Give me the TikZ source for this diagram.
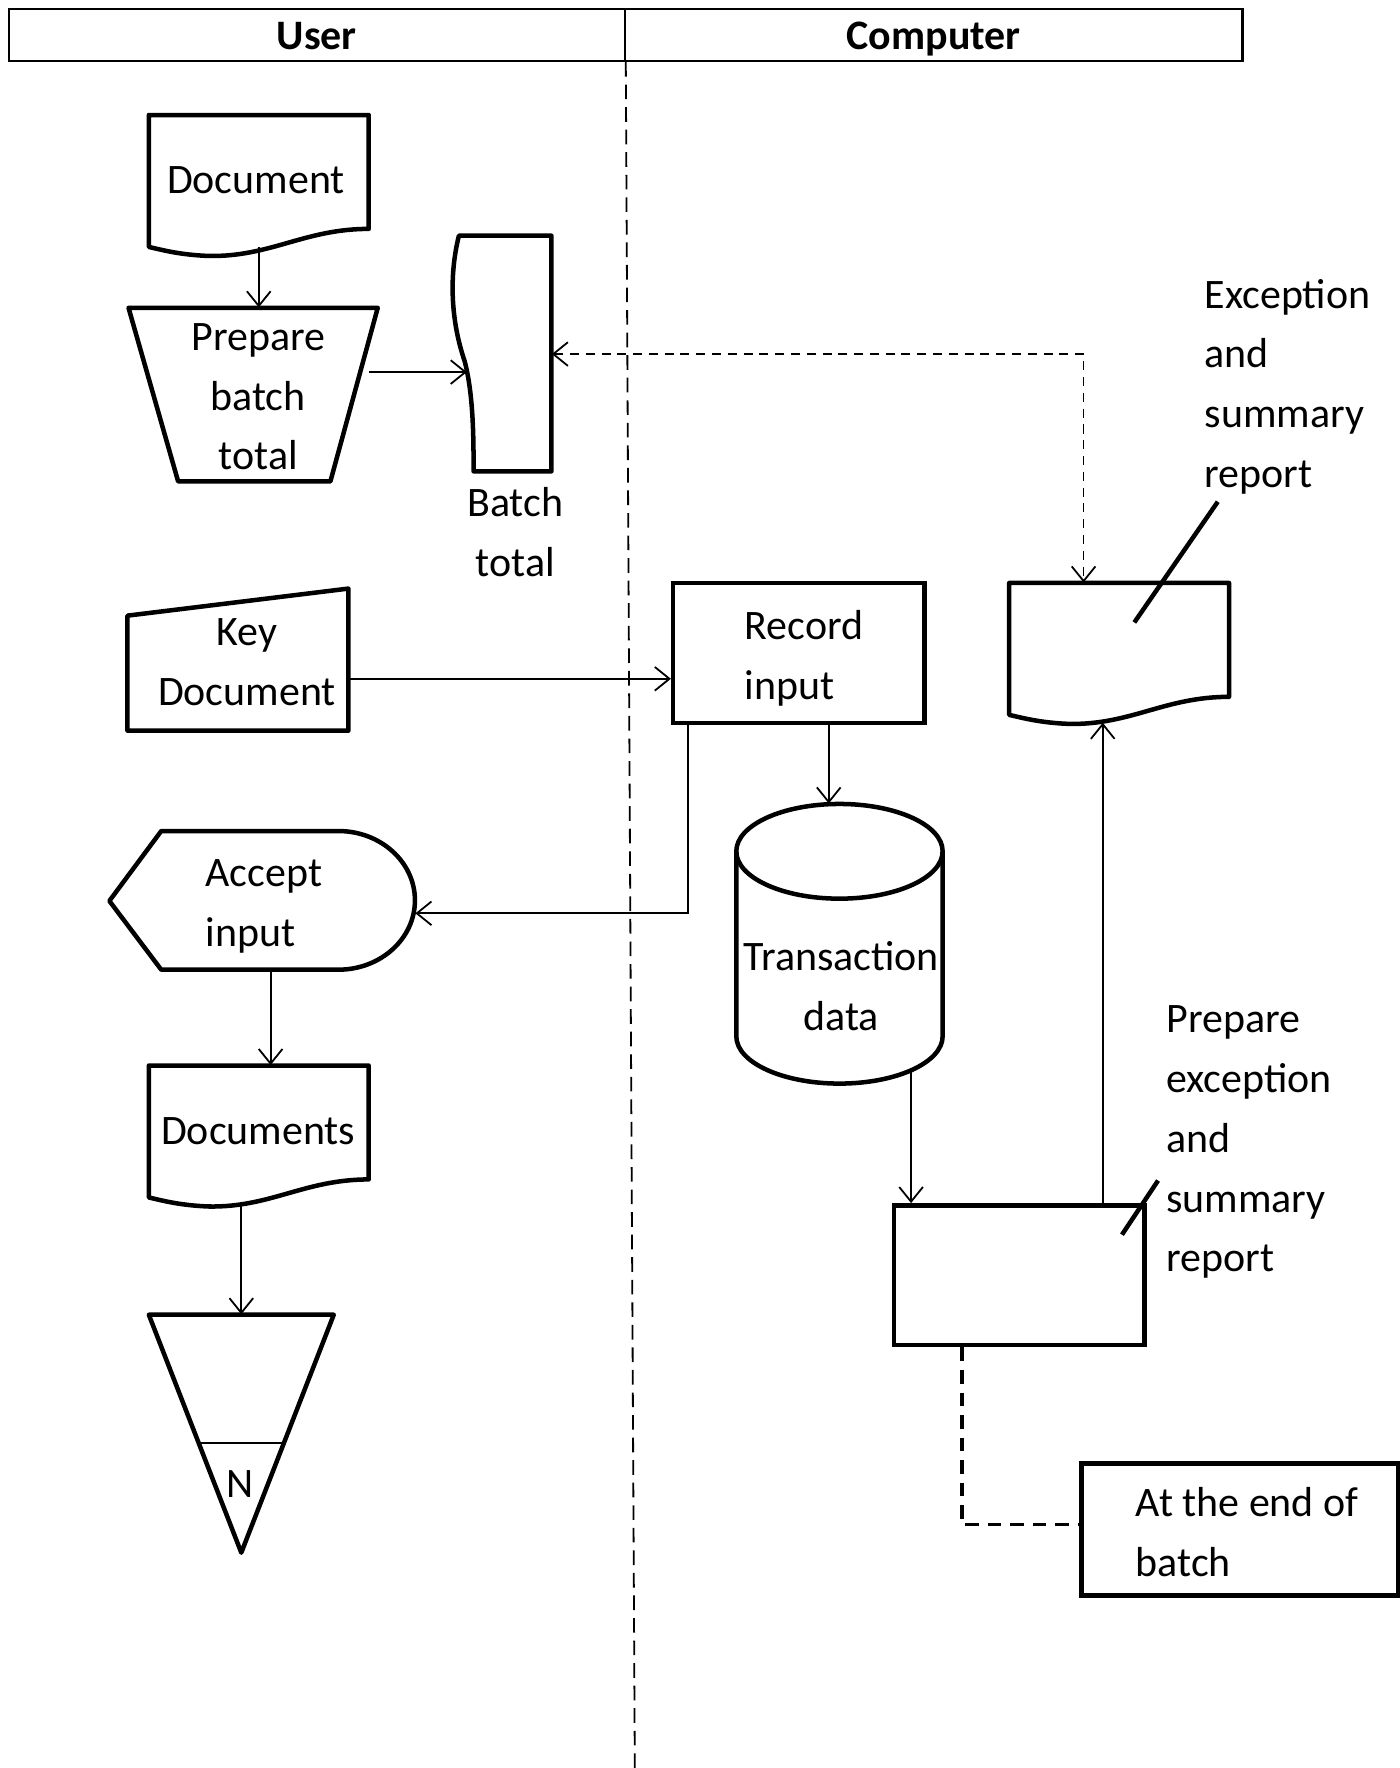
\documentclass[tikz,border=0pt]{standalone}
\usepackage{fontspec}
\setmainfont{Carlito}
\usetikzlibrary{arrows.meta,calc}
\begin{document}
\begin{tikzpicture}[x=0.5pt,y=-0.5pt,
  outl/.style={line width=2pt, line join=round},
  area/.style 2 args={inner sep=0pt, minimum width=#1*0.5pt, minimum height=#2*0.5pt},
  rbox/.style={draw, line width=2pt},
  hcell/.style={draw, line width=1pt, font=\fontsize{18.6}{26.5}\selectfont\bfseries, text height=13pt, text depth=0pt},
  txt/.style={inner sep=0pt, font=\fontsize{18.6}{26.5}\selectfont, align=center},
  ltxt/.style={txt, align=left, anchor=west},
  barb/.tip={Straight Barb[length=6.5pt,width=10.5pt]},
  conn/.style={line width=0.8pt, -barb},
  dconn/.style={line width=0.8pt, dash pattern=on 4pt off 3pt, barb-barb},
  lane/.style={line width=0.8pt, dash pattern=on 6.5pt off 3.5pt},
  thdash/.style={line width=1.6pt, dash pattern=on 6pt off 4pt},
  docpic/.pic={\draw[outl] (0,117) -- (0,0) -- (195,0) -- (195,101) .. controls (138,101) and (108,126) .. (53,125) .. controls (28,124) and (13,120) .. (0,117) -- cycle;}
]
\fill[white] (0,0) rectangle (1241,1568);
\useasboundingbox (0,0) rectangle (1241,1568);

% header
\node[hcell, area={546}{46}] (user) at (281,31) {User};
\node[hcell, area={548}{46}] (comp) at (828,31) {Computer};
\coordinate (laneEnd) at (563,1568);
\draw[lane] (user.south east) -- (laneEnd);

% shape areas
\node[area={195}{117}] (doc1) at (229.5,160.5) {};
\node[area={221}{154}] (trap) at (224.5,350) {};
\node[area={87}{209}] (batch) at (445.5,313.5) {};
\node[area={196}{126}] (keydoc) at (211,585) {};
\node[rbox, area={223}{124}] (record) at (708.5,579) {};
\node[area={196}{115}] (report) at (993,574.5) {};
\node[area={271}{123}] (accept) at (232.5,798.5) {};
\node[area={183}{248}] (cyl) at (744.5,837) {};
\node[area={195}{116}] (docs) at (229.5,1003) {};
\node[area={164}{211}] (tri) at (214,1271.5) {};
\node[rbox, area={222}{124}] (prep) at (904,1131) {};
\node[rbox, area={281}{117}] (endb) at (1099.5,1356.5) {};

% outlines
\pic at (132,102) {docpic};
\pic at (132,945) {docpic};
\pic at (895,517) {docpic};
\draw[outl] (114,273) -- (335,273) -- (293,427) -- (158,427) -- cycle;
\draw[outl] (489,209) -- (407,209) .. controls (398,245) and (400,285) .. (412,320) .. controls (420,350) and (420,390) .. (420,418) -- (489,418) -- cycle;
\draw[outl] (113,546) -- (309,522) -- (309,648) -- (113,648) -- cycle;
\draw[outl] (97,799) -- (143,737) -- (300,737) .. controls (337.6,737) and (368,764.5) .. (368,798.5) .. controls (368,832.5) and (337.6,860) .. (300,860) -- (143,860) -- cycle;
\draw[outl] (744.5,755) ellipse [x radius=45.75pt, y radius=21pt];
\draw[outl] (836,755) -- (836,919) arc [start angle=0, end angle=-180, x radius=45.75pt, y radius=21pt] -- (653,755);
\draw[outl] (132,1166) -- (296,1166) -- (214,1377) -- cycle;
\draw[line width=0.8pt] (178,1280) -- (250,1280);

% connectors
\draw[conn] (doc1.south) -- (doc1.south |- trap.north);
\coordinate (bIn) at (414,330);
\draw[conn] ([xshift=-4pt]trap.east |- bIn) -- (bIn);
\coordinate (eC) at (961,314);
\draw[dconn] (batch.east |- eC) -- (eC) -- (report.north -| eC);
\coordinate (kr) at (450,602);
\draw[conn] (keydoc.east |- kr) -- (record.west |- kr);
\coordinate (rc) at (735,680);
\draw[conn] (record.south -| rc) -- (cyl.north -| rc);
\coordinate (ra) at (610,810);
\draw[conn] (record.south -| ra) -- (ra) -- (accept.east |- ra);
\coordinate (ad) at (240,900);
\draw[conn] (accept.south -| ad) -- (docs.north -| ad);
\coordinate (dw) at (214,1067);
\draw[conn] (dw) -- (tri.north);
\coordinate (cp) at (808,950);
\draw[conn] (cp) -- (prep.north -| cp);
\coordinate (pr) at (978,641);
\draw[conn] (prep.north -| pr) -- (pr);
\coordinate (pe) at (853,1352);
\draw[thdash] (prep.south -| pe) -- (pe) -- (endb.west |- pe);

% annotation marks
\coordinate (a1) at (1006,552); \coordinate (a2) at (1080,445);
\draw[outl] (a1) -- (a2);
\coordinate (a3) at (995,1095); \coordinate (a4) at (1027,1047);
\draw[outl] (a3) -- (a4);

% texts
\node[txt] (tdoc1) at (227,160) {Document};
\node[txt] (ttrap) at (229,352) {Prepare\\batch\\total};
\node[txt] (tbatch) at (457,472) {Batch\\total};
\node[txt] (tkey) at (219,587) {Key\\Document};
\node[ltxt] (trec) at (660,584) {Record\\input};
\node[ltxt] (trep) at (1068,343) {Exception\\and\\summary\\report};
\node[ltxt] (tacc) at (182,804) {Accept\\input};
\node[txt] (tcyl) at (746,874.5) {Transaction\\data};
\node[txt] (tdocs) at (229,1003) {Documents};
\node[txt] (tN) at (213,1316) {N};
\node[ltxt] (tprep) at (1034,1013) {Prepare\\exception\\and\\summary\\report};
\node[ltxt] (tend) at (1007,1358.5) {At the end of\\batch};
\end{tikzpicture}
\end{document}
